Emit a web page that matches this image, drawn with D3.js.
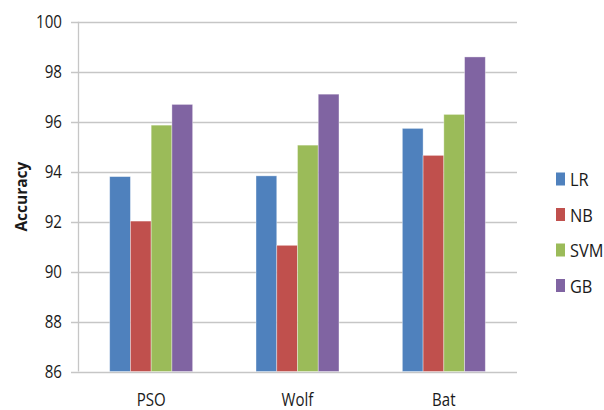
<!DOCTYPE html>
<html>
<head>
<meta charset="utf-8">
<script src="https://cdn.jsdelivr.net/npm/d3@7/dist/d3.min.js"></script>
<style>
  html, body { margin: 0; padding: 0; background: #fff; }
  svg text { font-family: "Open Sans", "Noto Sans", sans-serif; fill: #1a1a1a; }
</style>
</head>
<body>
<svg id="chart" width="604" height="410"></svg>
<script>
// Accuracy of each classifier per feature-selection optimiser
const categories = ["PSO", "Wolf", "Bat"];
const seriesNames = ["LR", "NB", "SVM", "GB"];
const LR  = [93.8, 93.83, 95.73];
const NB  = [92.02, 91.05, 94.65];
const SVM = [95.86, 95.06, 96.29];
const GB  = [96.69, 97.1, 98.59];
const yTicks = [86, 88, 90, 92, 94, 96, 98, 100];
const colors = ["#4F81BD", "#C0504D", "#9BBB59", "#8064A2"];

const seriesValues = [LR, NB, SVM, GB];

const svg = d3.select("#chart");
const m = { left: 78, right: 517, top: 21.7, bottom: 371.5 };
const sx = 0.86; // condensed glyph width

const x0 = d3.scaleBand().domain(categories).range([m.left, m.right]).paddingInner(0).paddingOuter(0);
const groupWidth = x0.bandwidth() * 0.567;
const x1 = d3.scaleBand().domain(seriesNames).range([0, groupWidth]).padding(0);
const y = d3.scaleLinear().domain([86, 100]).range([m.bottom, m.top]);
const color = d3.scaleOrdinal().domain(seriesNames).range(colors);

// gridlines (with short outer ticks to the left of the axis)
svg.append("g")
  .selectAll("line")
  .data(yTicks)
  .join("line")
  .attr("x1", m.left - 7)
  .attr("x2", m.right)
  .attr("y1", d => Math.round(y(d)) + 0.5)
  .attr("y2", d => Math.round(y(d)) + 0.5)
  .attr("stroke", "#c6c6c6")
  .attr("stroke-width", 1.3);

// vertical axis line
svg.append("line")
  .attr("x1", m.left + 0.5).attr("x2", m.left + 0.5)
  .attr("y1", y(100)).attr("y2", y(86))
  .attr("stroke", "#c6c6c6").attr("stroke-width", 1.3);

// y tick labels
svg.append("g")
  .selectAll("text")
  .data(yTicks)
  .join("text")
  .attr("transform", d => `translate(62,${y(d) + 6.3}) scale(${sx},1)`)
  .attr("text-anchor", "end")
  .attr("font-size", 17.6)
  .text(d => d);

// bars
const groups = svg.append("g")
  .selectAll("g")
  .data(categories)
  .join("g")
  .attr("transform", d => `translate(${x0(d) + (x0.bandwidth() - groupWidth) / 2},0)`);

groups.selectAll("rect")
  .data((c, i) => seriesNames.map((s, j) => ({ s, v: seriesValues[j][i] })))
  .join("rect")
  .attr("x", d => x1(d.s))
  .attr("width", x1.bandwidth())
  .attr("y", d => y(d.v))
  .attr("height", d => y(86) - y(d.v))
  .attr("fill", d => color(d.s))
  .attr("stroke", "rgba(255,255,255,0.45)")
  .attr("stroke-width", 0.8);

// category labels
svg.append("g")
  .selectAll("text")
  .data(categories)
  .join("text")
  .attr("transform", d => `translate(${x0(d) + x0.bandwidth() / 2},406) scale(${sx},1)`)
  .attr("text-anchor", "middle")
  .attr("font-size", 17.5)
  .text(d => d);

// y-axis title
svg.append("text")
  .attr("transform", `translate(26.5,${(m.top + m.bottom) / 2}) rotate(-90)`)
  .attr("text-anchor", "middle")
  .attr("font-size", 15.5)
  .attr("font-weight", "bold")
  .text("Accuracy");

// legend
const legend = svg.append("g")
  .selectAll("g")
  .data(seriesNames)
  .join("g")
  .attr("transform", (d, i) => `translate(556,${179 + i * 35.5})`);

legend.append("rect")
  .attr("x", 0).attr("y", -6.5)
  .attr("width", 9).attr("height", 13)
  .attr("fill", d => color(d));

legend.append("text")
  .attr("transform", `translate(14,7) scale(${sx},1)`)
  .attr("font-size", 19)
  .text(d => d);
</script>
</body>
</html>
